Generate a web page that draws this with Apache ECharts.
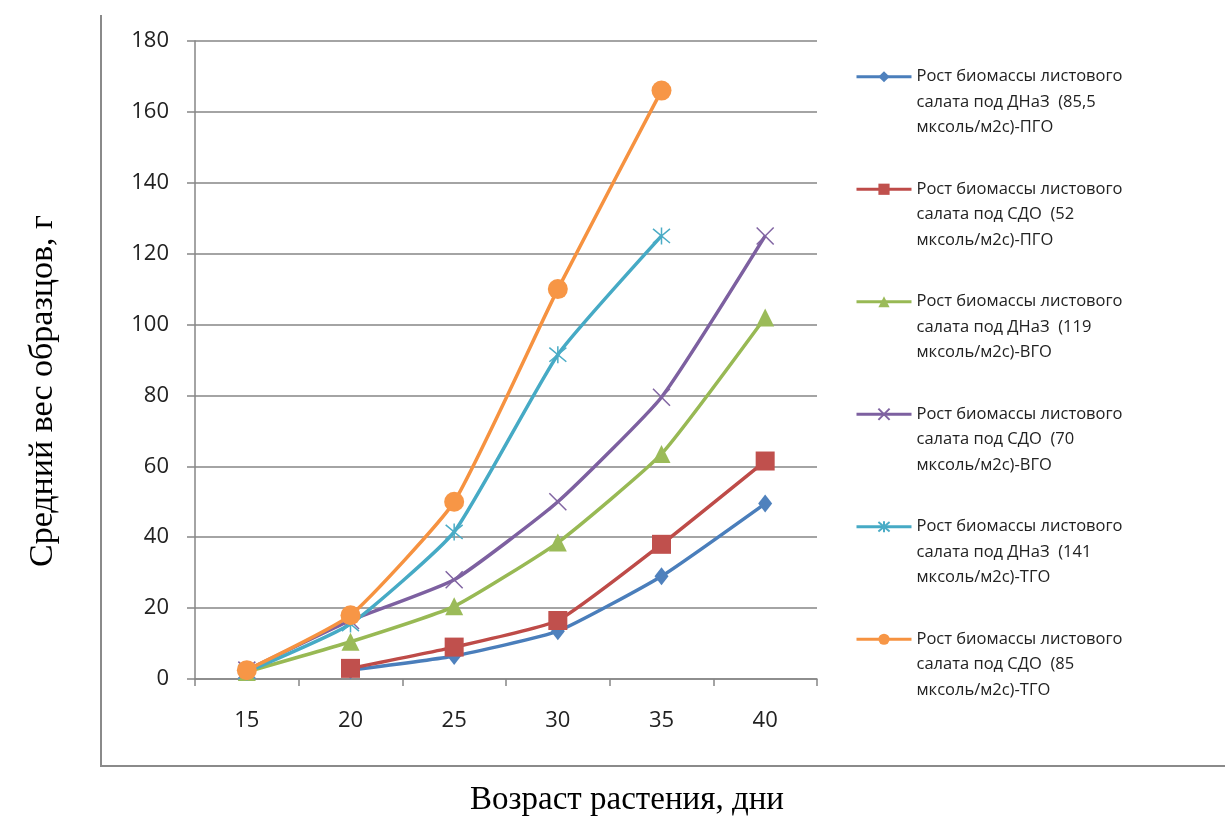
<!DOCTYPE html>
<html>
<head>
<meta charset="utf-8">
<style>
  html, body { margin: 0; padding: 0; background: #fff; }
  #chart { width: 1225px; height: 828px; }
</style>
<script src="https://cdn.jsdelivr.net/npm/echarts@6/dist/echarts.min.js"></script>
</head>
<body>
<div id="chart"></div>
<script>
// Plant age, days
const ageDays = ['15', '20', '25', '30', '35', '40'];
const yTicks = { min: 0, max: 180, step: 20 };

// Mean sample weight, g
const dnazPgo = [null, 2.5, 6.5, 13.5, 29, 49.5];
const sdoPgo = [null, 3, 9, 16.5, 38, 61.5];
const dnazVgo = [2, 10.5, 20.5, 38.5, 63.5, 102];
const sdoVgo = [2.5, 16.5, 28, 50, 79.5, 125];
const dnazTgo = [2, 15.5, 41.5, 91.5, 125, null];
const sdoTgo = [2.5, 18, 50, 110, 166, null];

const seriesNames = [
  'Рост биомассы листового\nсалата под ДНаЗ  (85,5\nмксоль/м2с)-ПГО',
  'Рост биомассы листового\nсалата под СДО  (52\nмксоль/м2с)-ПГО',
  'Рост биомассы листового\nсалата под ДНаЗ  (119\nмксоль/м2с)-ВГО',
  'Рост биомассы листового\nсалата под СДО  (70\nмксоль/м2с)-ВГО',
  'Рост биомассы листового\nсалата под ДНаЗ  (141\nмксоль/м2с)-ТГО',
  'Рост биомассы листового\nсалата под СДО  (85\nмксоль/м2с)-ТГО'
];

const crossPath = 'path://M0,0L10,10M10,0L0,10';
const starPath = 'path://M0,0L10,10M10,0L0,10M5,-1L5,11';

const styles = [
  { line: '#4A7EBB', mark: '#4F81BD', symbol: 'diamond', size: [14, 18] },
  { line: '#BE4B48', mark: '#C0504D', symbol: 'rect', size: 19 },
  { line: '#98B954', mark: '#9BBB59', symbol: 'triangle', size: 18 },
  { line: '#7D60A0', mark: '#8064A2', symbol: crossPath, size: 17, stroke: true },
  { line: '#46AAC5', mark: '#4BACC6', symbol: starPath, size: 17, stroke: true },
  { line: '#F69240', mark: '#F79646', symbol: 'circle', size: 20 }
];

const values = [dnazPgo, sdoPgo, dnazVgo, sdoVgo, dnazTgo, sdoTgo];

const series = values.map((data, i) => {
  const s = styles[i];
  return {
    name: seriesNames[i],
    type: 'line',
    data: data,
    smooth: 0.15,
    symbol: s.symbol,
    symbolSize: s.size,
    showSymbol: true,
    lineStyle: { color: s.line, width: 3.5 },
    itemStyle: s.stroke
      ? { color: 'rgba(0,0,0,0)', borderColor: s.mark, borderWidth: 1.5 }
      : { color: s.mark, borderColor: s.mark, borderWidth: 0 },
    emphasis: { disabled: true },
    z: 2 + i
  };
});

const chart = echarts.init(document.getElementById('chart'), null, { renderer: 'canvas' });

chart.setOption({
  animation: false,
  backgroundColor: '#ffffff',
  grid: { left: 195, right: 408, top: 41, bottom: 149, containLabel: false },
  xAxis: {
    type: 'category',
    data: ageDays,
    boundaryGap: true,
    axisLine: { show: true, lineStyle: { color: '#868686', width: 1.5 } },
    axisTick: { show: true, length: 7, inside: false, lineStyle: { color: '#868686', width: 1.5 } },
    axisLabel: { margin: 31, color: '#222', fontFamily: 'Open Sans', fontSize: 22 },
    splitLine: { show: false }
  },
  yAxis: {
    type: 'value',
    min: yTicks.min,
    max: yTicks.max,
    interval: yTicks.step,
    axisLine: { show: true, lineStyle: { color: '#868686', width: 1.5 } },
    axisTick: { show: true, length: 8, inside: false, lineStyle: { color: '#868686', width: 1.5 } },
    axisLabel: { margin: 26, color: '#222', fontFamily: 'Open Sans', fontSize: 22 },
    splitLine: { show: true, lineStyle: { color: '#868686', width: 1.5 } }
  },
  legend: {
    orient: 'vertical',
    left: 855,
    top: 13,
    padding: 0,
    itemGap: -15,
    itemWidth: 55,
    itemHeight: 14,
    selectedMode: false,
    data: seriesNames,
    lineStyle: { width: 3 },
    // two blank lines above keep the first text line level with the icon
    formatter: name => '\n\n' + name,
    textStyle: {
      fontFamily: 'Open Sans',
      fontSize: 16.5,
      color: '#222',
      lineHeight: 25.5
    }
  },
  graphic: [
    {
      type: 'polyline',
      silent: true,
      shape: { points: [[101, 15], [101, 766], [1225, 766]] },
      style: { stroke: '#8a8a8a', lineWidth: 2, fill: null }
    },
    {
      type: 'text',
      silent: true,
      x: 43,
      y: 391,
      rotation: Math.PI / 2,
      style: {
        text: 'Средний вес образцов, г',
        fontFamily: 'Liberation Serif',
        fontSize: 34,
        fill: '#000',
        align: 'center',
        verticalAlign: 'middle'
      }
    },
    {
      type: 'text',
      silent: true,
      x: 627,
      y: 800,
      style: {
        text: 'Возраст растения, дни',
        fontFamily: 'Liberation Serif',
        fontSize: 33,
        fill: '#000',
        align: 'center',
        verticalAlign: 'middle'
      }
    }
  ],
  series: series
});
</script>
</body>
</html>
